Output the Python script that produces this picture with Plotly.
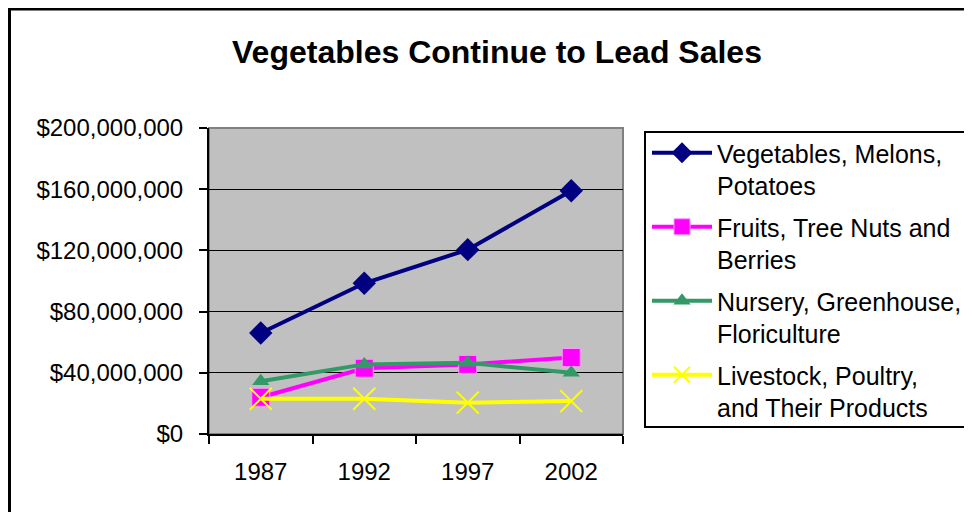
import plotly.graph_objects as go

years = ["1987", "1992", "1997", "2002"]
vegetables = [66_000_000, 98_500_000, 120_500_000, 159_000_000]
fruits = [24_000_000, 43_000_000, 45_500_000, 50_000_000]
nursery = [34_500_000, 45_500_000, 46_500_000, 40_000_000]
livestock = [23_000_000, 23_000_000, 20_500_000, 21_500_000]

names = ["Vegetables, Melons,<br>Potatoes",
         "Fruits, Tree Nuts and<br>Berries",
         "Nursery, Greenhouse,<br>Floriculture",
         "Livestock, Poultry,<br>and Their Products"]

y_ticks = [0, 40_000_000, 80_000_000, 120_000_000, 160_000_000, 200_000_000]
y_tick_labels = ["$0", "$40,000,000", "$80,000,000", "$120,000,000", "$160,000,000", "$200,000,000"]

FONT = "Liberation Sans, Arial, sans-serif"

fig = go.Figure()
fig.add_trace(go.Scatter(x=years, y=vegetables, name=names[0], mode="lines+markers",
                         legendgroup="a",
                         line=dict(color="#000080", width=4),
                         marker=dict(symbol="diamond", size=18, color="#000080")))
fig.add_trace(go.Scatter(x=years, y=fruits, name=names[1], mode="lines+markers",
                         legendgroup="b",
                         line=dict(color="#FF00FF", width=4),
                         marker=dict(symbol="square", size=18, color="#FF00FF",
                                     line=dict(color="#FF99FF", width=1))))
fig.add_trace(go.Scatter(x=years, y=nursery, name=names[2], mode="lines+markers",
                         legendgroup="c",
                         line=dict(color="#339966", width=4),
                         marker=dict(symbol="triangle-up", size=15, color="#339966")))
fig.add_trace(go.Scatter(x=years, y=livestock, name=names[3], mode="lines+markers",
                         legendgroup="d",
                         line=dict(color="#FFFF00", width=4),
                         marker=dict(symbol="x-thin-open", size=22, color="#FFFF00",
                                     line=dict(color="#FFFF00", width=2))))

# page offset (browser body margin)
OFF = 8
W, H = 972, 512
L, R, T, B = 209 - OFF, 623 - OFF, 128 - OFF, 434 - OFF
pw, ph = R - L, B - T

def px(x):
    return (x - OFF - L) / pw

def py(y):
    return (B - (y - OFF)) / ph

shapes = [
    dict(type="rect", xref="paper", yref="paper", x0=0, x1=1, y0=0, y1=1,
         line=dict(color="#808080", width=2), layer="below"),
    dict(type="rect", xref="paper", yref="paper", x0=px(9.5), x1=px(1000), y0=py(540), y1=py(9),
         line=dict(color="black", width=3)),
    dict(type="rect", xref="paper", yref="paper", x0=px(645), x1=px(1000), y0=py(427), y1=py(132),
         line=dict(color="black", width=2)),
]

fig.update_layout(
    width=W, height=H,
    margin=dict(l=L, r=W - R, t=T, b=H - B, pad=0, autoexpand=False),
    paper_bgcolor="white", plot_bgcolor="#C0C0C0",
    font=dict(family=FONT, color="black", size=24),
    title=dict(text="<b>Vegetables Continue to Lead Sales</b>", x=(497 - OFF) / W, xanchor="center",
               y=1 - (52 - OFF) / H, yanchor="middle", font=dict(size=32, family=FONT, color="black")),
    showlegend=True,
    legend=dict(x=px(647), xanchor="left", y=py(130), yanchor="top",
                bgcolor="rgba(0,0,0,0)", borderwidth=0, valign="top",
                font=dict(size=25, family=FONT, color="black"),
                itemwidth=60, tracegroupgap=6),
    shapes=shapes,
)

fig.update_xaxes(type="category", range=[-0.5, 3.5], tickson="boundaries",
                 ticks="outside", ticklen=8, tickwidth=2, tickcolor="black",
                 showline=True, linecolor="black", linewidth=2, showgrid=False,
                 ticklabelstandoff=15, tickfont=dict(size=24), zeroline=False)
fig.update_yaxes(range=[0, 200_000_000], tickvals=y_ticks, ticktext=y_tick_labels,
                 ticks="outside", ticklen=8, tickwidth=2, tickcolor="black",
                 showline=True, linecolor="black", linewidth=2,
                 showgrid=True, gridcolor="black", gridwidth=1, zeroline=False,
                 ticklabelstandoff=11, tickfont=dict(size=24))

fig.write_html("out.html")
